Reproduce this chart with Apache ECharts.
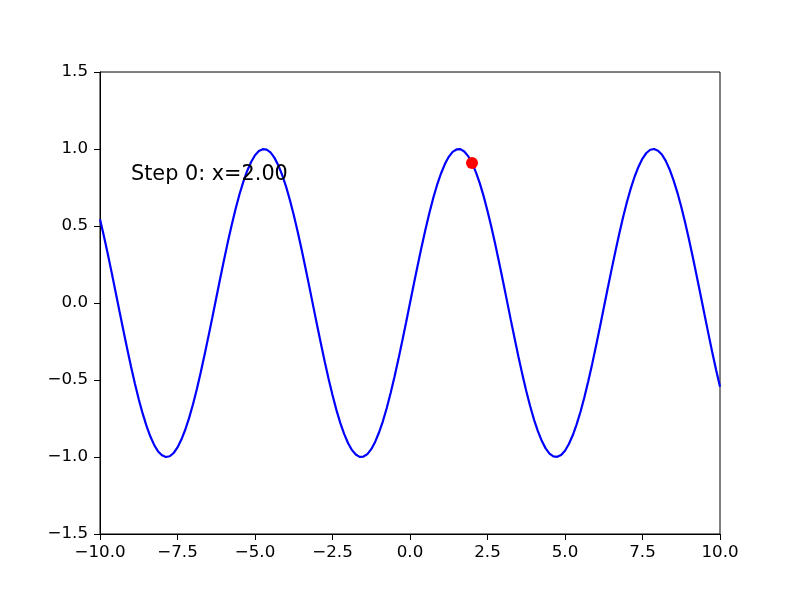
<!DOCTYPE html>
<html>
<head>
<meta charset="utf-8">
<script src="https://cdn.jsdelivr.net/npm/echarts@6/dist/echarts.min.js"></script>
<style>html,body{margin:0;padding:0;background:#fff}#c{width:800px;height:600px}</style>
</head>
<body>
<div id="c"></div>
<script>
// Curve samples
var xs = [
 -10,-9.875,-9.75,-9.625,-9.5,-9.375,-9.25,-9.125,-9,-8.875,-8.75,-8.625,-8.5,-8.375,-8.25,-8.125,
 -8,-7.875,-7.75,-7.625,-7.5,-7.375,-7.25,-7.125,-7,-6.875,-6.75,-6.625,-6.5,-6.375,-6.25,-6.125,
 -6,-5.875,-5.75,-5.625,-5.5,-5.375,-5.25,-5.125,-5,-4.875,-4.75,-4.625,-4.5,-4.375,-4.25,-4.125,
 -4,-3.875,-3.75,-3.625,-3.5,-3.375,-3.25,-3.125,-3,-2.875,-2.75,-2.625,-2.5,-2.375,-2.25,-2.125,
 -2,-1.875,-1.75,-1.625,-1.5,-1.375,-1.25,-1.125,-1,-0.875,-0.75,-0.625,-0.5,-0.375,-0.25,-0.125,
 0,0.125,0.25,0.375,0.5,0.625,0.75,0.875,1,1.125,1.25,1.375,1.5,1.625,1.75,1.875,
 2,2.125,2.25,2.375,2.5,2.625,2.75,2.875,3,3.125,3.25,3.375,3.5,3.625,3.75,3.875,
 4,4.125,4.25,4.375,4.5,4.625,4.75,4.875,5,5.125,5.25,5.375,5.5,5.625,5.75,5.875,
 6,6.125,6.25,6.375,6.5,6.625,6.75,6.875,7,7.125,7.25,7.375,7.5,7.625,7.75,7.875,
 8,8.125,8.25,8.375,8.5,8.625,8.75,8.875,9,9.125,9.25,9.375,9.5,9.625,9.75,9.875,10];
var ys = [
 0.544,0.435,0.320,0.199,0.075,-0.050,-0.174,-0.295,-0.412,-0.523,-0.625,-0.717,-0.798,-0.867,-0.923,-0.964,
 -0.989,-1.000,-0.995,-0.974,-0.938,-0.887,-0.823,-0.746,-0.657,-0.558,-0.450,-0.335,-0.215,-0.092,0.033,0.158,
 0.279,0.397,0.508,0.612,0.706,0.788,0.859,0.916,0.959,0.987,0.999,0.996,0.978,0.944,0.895,0.832,
 0.757,0.669,0.572,0.465,0.351,0.231,0.108,-0.017,-0.141,-0.263,-0.382,-0.494,-0.598,-0.694,-0.778,-0.850,
 -0.909,-0.954,-0.984,-0.999,-0.997,-0.981,-0.949,-0.902,-0.841,-0.768,-0.682,-0.585,-0.479,-0.366,-0.247,-0.125,
 0,0.125,0.247,0.366,0.479,0.585,0.682,0.768,0.841,0.902,0.949,0.981,0.997,0.999,0.984,0.954,
 0.909,0.850,0.778,0.694,0.598,0.494,0.382,0.263,0.141,0.017,-0.108,-0.231,-0.351,-0.465,-0.572,-0.669,
 -0.757,-0.832,-0.895,-0.944,-0.978,-0.996,-0.999,-0.987,-0.959,-0.916,-0.859,-0.788,-0.706,-0.612,-0.508,-0.397,
 -0.279,-0.158,-0.033,0.092,0.215,0.335,0.450,0.558,0.657,0.746,0.823,0.887,0.938,0.974,0.995,1.000,
 0.989,0.964,0.923,0.867,0.798,0.717,0.625,0.523,0.412,0.295,0.174,0.050,-0.075,-0.199,-0.320,-0.435,-0.544];
var pointX = [2.0];
var pointY = [0.909];
var labelX = [-9];
var labelY = [0.8];
var labelText = ["Step 0: x=2.00"];

var curve = xs.map(function(x,i){return [x, ys[i]];});
var pts = pointX.map(function(x,i){return [x, pointY[i]];});
var lbl = labelX.map(function(x,i){return {value:[x, labelY[i]], name: labelText[i]};});

function fmt(v){ var s = v.toFixed(1); return v < 0 ? '\u2212' + s.slice(1) : s; }

var chart = echarts.init(document.getElementById('c'), null, {renderer:'canvas'});
var font = '"DejaVu Sans", sans-serif';
chart.setOption({
  animation:false,
  backgroundColor:'#fff',
  textStyle:{fontFamily:font},
  grid:{left:100, top:72, width:620, height:462, show:true, borderColor:'#000', borderWidth:1, backgroundColor:'transparent'},
  xAxis:{type:'value', min:-10, max:10, interval:2.5,
    axisLine:{show:true, onZero:false, lineStyle:{color:'#000', width:1}},
    axisTick:{show:true, inside:false, length:6, lineStyle:{color:'#000'}},
    splitLine:{show:false},
    axisLabel:{color:'#000', fontFamily:font, fontSize:16.7, margin:10, formatter:fmt}},
  yAxis:{type:'value', min:-1.5, max:1.5, interval:0.5,
    axisLine:{show:true, onZero:false, lineStyle:{color:'#000', width:1}},
    axisTick:{show:true, inside:false, length:6, lineStyle:{color:'#000'}},
    splitLine:{show:false},
    axisLabel:{color:'#000', fontFamily:font, fontSize:16.7, margin:12, formatter:fmt}},
  series:[
    {type:'line', data:curve, showSymbol:false, symbol:'none', smooth:false, lineStyle:{color:'#0000ff', width:2.2}, z:2},
    {type:'scatter', data:pts, symbol:'circle', symbolSize:12, itemStyle:{color:'#ff0000', opacity:1}, z:3},
    {type:'scatter', data:lbl, symbolSize:0, z:4, itemStyle:{opacity:1},
      label:{show:true, position:[0,5], align:'left', verticalAlign:'bottom', color:'#000', opacity:1, fontFamily:font, fontSize:20.8,
        textBorderWidth:0, formatter:function(p){return p.name;}}}
  ]
});
</script>
</body>
</html>
